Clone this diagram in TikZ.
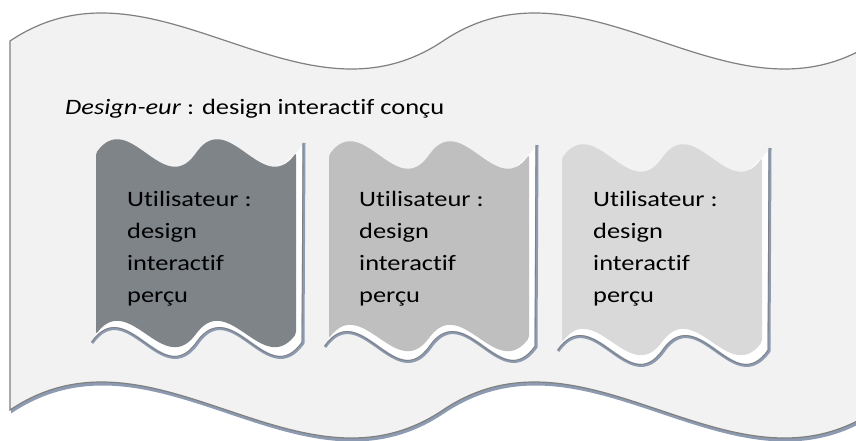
\documentclass[tikz,border=0pt]{standalone}
\usepackage{fontspec}
\setmainfont{Carlito}[Ligatures=NoCommon]
\usepackage{graphicx}
\definecolor{bgfill}{HTML}{F2F2F2}
\definecolor{edgegray}{HTML}{808080}
\definecolor{shade}{HTML}{8C9BB2}
\definecolor{fillA}{HTML}{7F8489}
\definecolor{fillB}{HTML}{BFBFBF}
\definecolor{fillC}{HTML}{D9D9D9}
\tikzset{
  bigwave/.style={fill=bgfill, draw=edgegray, line width=1.2pt},
  bigshadow/.style={fill=shade},
  shadeline/.style={draw=shade, line width=3pt},
  shadeedge/.style={draw=edgegray, line width=0.8pt},
  band/.style={fill=white},
  lbl/.style={anchor=base west, inner sep=0pt, font=\fontsize{22}{32}\selectfont},
}
\newcommand\innerbox[4]{%
  \pgfmathsetmacro\wL{#1}\pgfmathsetmacro\wM{#1+100}\pgfmathsetmacro\wR{#1+200}%
  \pgfmathsetmacro\wT{#2}\pgfmathsetmacro\wB{#3}\pgfmathsetmacro\wBs{#3+9}%
  \fill[band] (\wL-4,\wBs) .. controls (\wL+31.2,\wBs-50) and (\wL+66.3,\wBs+50) .. (\wL+101.5,\wBs)
     .. controls (\wL+136.7,\wBs-50) and (\wL+171.8,\wBs+50) .. (\wR+7,\wBs)
     -- (\wR+8,\wT-10) -- (\wR,\wT) -- (\wL,\wB) -- cycle;
  \draw[shadeline, line join=round] (\wL-4,\wBs) .. controls (\wL+31.2,\wBs-50) and (\wL+66.3,\wBs+50) .. (\wL+101.5,\wBs)
     .. controls (\wL+136.7,\wBs-50) and (\wL+171.8,\wBs+50) .. (\wR+7,\wBs)
     -- (\wR+8,\wT-10);
  \begin{scope}[shift={(-1,-1)}]
  \draw[shadeedge, line join=round] (\wL-3,\wBs) .. controls (\wL+31.2,\wBs-50) and (\wL+66.3,\wBs+50) .. (\wL+101.5,\wBs)
     .. controls (\wL+136.7,\wBs-50) and (\wL+171.8,\wBs+50) .. (\wR+7,\wBs)
     -- (\wR+8,\wT-9);
  \end{scope}
  \fill[#4, rounded corners=2pt] (\wL,\wT) .. controls (\wL+33.33,\wT-45) and (\wL+66.67,\wT+45) .. (\wM,\wT)
     .. controls (\wM+33.33,\wT-45) and (\wM+66.67,\wT+45) .. (\wR,\wT)
     -- (\wR,\wB) .. controls (\wR-33.33,\wB+43) and (\wR-66.67,\wB-43) .. (\wM,\wB)
     .. controls (\wM-33.33,\wB+43) and (\wM-66.67,\wB-43) .. (\wL,\wB) -- cycle;
}
\begin{document}
\begin{tikzpicture}[x=1pt, y=-1pt]
\useasboundingbox (0,0) rectangle (856,441);
\fill[white] (0,0) rectangle (856,441);
\clip (0,0) rectangle (856,441);
% big wave banner: shadow then body
\begin{scope}[shift={(1,3.5)}]
\fill[bigshadow] (10,41) .. controls (154.3,-56) and (298.7,138) .. (443,41)
   .. controls (587.3,-56) and (731.7,138) .. (876,41) -- (876,410)
   .. controls (731.7,507) and (587.3,313) .. (443,410)
   .. controls (298.7,507) and (154.3,313) .. (10,410) -- cycle;
\end{scope}
\filldraw[bigwave] (10,41) .. controls (154.3,-56) and (298.7,138) .. (443,41)
   .. controls (587.3,-56) and (731.7,138) .. (876,41) -- (876,410)
   .. controls (731.7,507) and (587.3,313) .. (443,410)
   .. controls (298.7,507) and (154.3,313) .. (10,410) -- cycle;
\node[lbl] (title) at (65,114) {\scalebox{1.2}[1]{\textit{Design-eur} : design interactif conçu}};
% three inner wave boxes
\innerbox{96}{153}{334}{fillA}
\innerbox{329}{155}{338}{fillB}
\innerbox{562}{158}{342}{fillC}
\node[lbl] (u1) at (127,206) {\scalebox{1.2}[1]{\begin{tabular}[t]{@{}l@{}}Utilisateur :\\design\\interactif\\perçu\end{tabular}}};
\node[lbl] (u2) at (359,206) {\scalebox{1.2}[1]{\begin{tabular}[t]{@{}l@{}}Utilisateur :\\design\\interactif\\perçu\end{tabular}}};
\node[lbl] (u3) at (593,206) {\scalebox{1.2}[1]{\begin{tabular}[t]{@{}l@{}}Utilisateur :\\design\\interactif\\perçu\end{tabular}}};
\end{tikzpicture}
\end{document}
